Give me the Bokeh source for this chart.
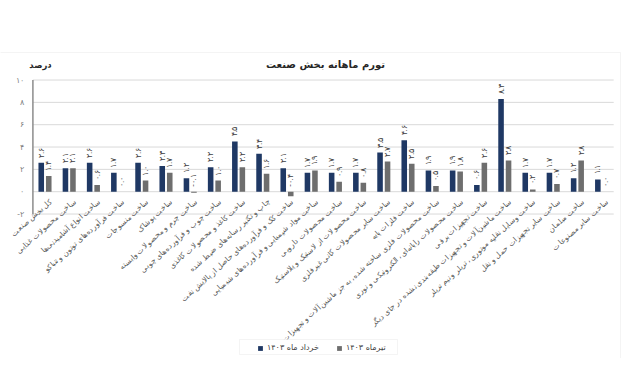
import math
from bokeh.plotting import figure
from bokeh.models import (ColumnDataSource, LabelSet, Label, Legend, LegendItem,
                          Range1d, BoxAnnotation)
from bokeh.transform import dodge
from bokeh.embed import file_html
from bokeh.resources import INLINE

categories = [
    "کل بخش صنعت",
    "ساخت محصولات غذایی",
    "ساخت انواع آشامیدنی‌ها",
    "ساخت فرآورده‌های توتون و تنباکو",
    "ساخت منسوجات",
    "ساخت پوشاک",
    "ساخت چرم و محصولات وابسته",
    "ساخت چوب و فرآورده‌های چوبی",
    "ساخت کاغذ و محصولات کاغذی",
    "چاپ و تکثیر رسانه‌های ضبط شده",
    "ساخت کک و فرآورده‌های حاصل از پالایش نفت",
    "ساخت مواد شیمیایی و فرآورده‌های شیمیایی",
    "ساخت محصولات دارویی",
    "ساخت محصولات از لاستیک و پلاستیک",
    "ساخت سایر محصولات کانی غیرفلزی",
    "ساخت فلزات پایه",
    "ساخت محصولات فلزی ساخته شده، به جز ماشین‌آلات و تجهیزات",
    "ساخت محصولات رایانه‌ای، الکترونیکی و نوری",
    "ساخت تجهیزات برقی",
    "ساخت ماشین‌آلات و تجهیزات طبقه‌بندی نشده در جای دیگر",
    "ساخت وسایل نقلیه موتوری، تریلر و نیم تریلر",
    "ساخت سایر تجهیزات حمل و نقل",
    "ساخت مبلمان",
    "ساخت سایر مصنوعات",
]
khordad = [2.6, 2.1, 2.6, 1.7, 2.6, 2.3, 1.2, 2.2, 4.5, 3.4, 2.1, 1.7,
           1.7, 1.7, 3.5, 4.6, 1.9, 1.9, 0.6, 8.3, 1.7, 1.7, 1.2, 1.1]
tir = [1.4, 2.1, 0.6, 0.0, 1.0, 1.7, -0.1, 1.0, 2.2, 1.6, -0.4, 1.9,
       0.9, 0.8, 2.7, 2.5, 0.5, 1.8, 2.6, 2.8, 0.2, 0.7, 2.8, 0.0]
y_ticks = [-2, 0, 2, 4, 6, 8, 10]
series_names = ["خرداد ماه ۱۴۰۳", "تیرماه ۱۴۰۳"]
title_text = "تورم ماهانه بخش صنعت"
unit_text = "درصد"

BLUE = "#1F3864"
GRAY = "#6E6E6E"
FONT = "DejaVu Sans"

_tr = str.maketrans("0123456789", "۰۱۲۳۴۵۶۷۸۹")


def fa(s):
    return str(s).translate(_tr)


n = len(categories)
W, H = 624, 358
# layout: plot area in pixels (figure coordinates)
PX_LEFT, PX_CAT = 32.4, 24.2          # left of first category, width of a category
PX_ZERO, PX_UNIT = 191.2, 11.167      # y pixel of value 0 (from top), px per unit


def ux(px):
    return (px - PX_LEFT) / PX_CAT


def vy(py):
    return (PX_ZERO - py) / PX_UNIT


src = ColumnDataSource(dict(
    cat=categories,
    xc=[i + 0.5 for i in range(n)],
    a=khordad,
    b=tir,
    a_pos=[max(v, 0) for v in khordad],
    b_pos=[max(v, 0) for v in tir],
    a_lab=[fa(f"{v:.1f}") for v in khordad],
    b_lab=[fa(f"{v:.1f}") for v in tir],
    zero=[0] * n,
))
tick_src = ColumnDataSource(dict(
    y=y_ticks,
    x0=[0] * len(y_ticks),
    x1=[n] * len(y_ticks),
    lab=[fa(t) if t >= 0 else "-" + fa(-t) for t in y_ticks],
))

p = figure(x_range=Range1d(ux(0), ux(W)), y_range=Range1d(vy(H), vy(0)),
           width=W, height=H, output_backend="svg", toolbar_location=None,
           min_border=0, min_border_left=0, min_border_right=0,
           min_border_top=0, min_border_bottom=0)
p.outline_line_color = None
p.axis.visible = False
p.grid.visible = False
p.background_fill_color = "white"
p.border_fill_color = "white"

# outer chart border
p.add_layout(BoxAnnotation(left=ux(-20), right=ux(620), top=vy(52), bottom=vy(H + 20),
                           fill_alpha=0, line_color="#d9d9d9", line_width=1))

# gridlines and y axis
p.segment(x0="x0", x1="x1", y0="y", y1="y", source=tick_src,
          line_color="#d9d9d9", line_width=1)
p.segment(x0=[0], x1=[0], y0=[min(y_ticks)], y1=[max(y_ticks)],
          line_color="#8c8c8c", line_width=1.5)
p.add_layout(LabelSet(x="x0", y="y", text="lab", source=tick_src, x_offset=-9,
                      text_align="right", text_baseline="middle",
                      text_font_size="8px", text_color="#7f7f7f", text_font=FONT))

r1 = p.vbar(x=dodge("xc", -0.155), top="a", width=0.23,
            source=src, fill_color=BLUE, line_color=None)
r2 = p.vbar(x=dodge("xc", 0.155), top="b", width=0.23,
            source=src, fill_color=GRAY, line_color=None)

# value labels
p.add_layout(LabelSet(x=dodge("xc", -0.155), y="a_pos", text="a_lab",
                      source=src, angle=math.pi / 2, text_align="left",
                      text_baseline="middle", y_offset=5, text_font_size="7.5px",
                      text_color="#404040", text_font=FONT))
p.add_layout(LabelSet(x=dodge("xc", 0.155), y="b_pos", text="b_lab",
                      source=src, angle=math.pi / 2, text_align="left",
                      text_baseline="middle", y_offset=5, text_font_size="7.5px",
                      text_color="#404040", text_font=FONT))

# category labels
p.add_layout(LabelSet(x="xc", y="zero", text="cat", source=src, angle=math.radians(42),
                      text_align="right", text_baseline="top", x_offset=3, y_offset=-5,
                      text_font_size="7.5px", text_color="#595959", text_font=FONT))

p.add_layout(Label(x=ux(325), y=vy(64), text=title_text, text_align="center",
                   text_baseline="middle", text_font_style="bold",
                   text_font_size="10px", text_color="#262626", text_font=FONT))
p.add_layout(Label(x=ux(40), y=vy(64.5), text=unit_text, text_align="center",
                   text_baseline="middle", text_font_style="bold",
                   text_font_size="8.5px", text_color="#262626", text_font=FONT))

# legend frame + legend
p.add_layout(BoxAnnotation(left=ux(239), right=ux(397), top=vy(339), bottom=vy(354),
                           fill_color="white", fill_alpha=1,
                           line_color="#d9d9d9", line_width=1))
legend = Legend(items=[LegendItem(label=series_names[0], renderers=[r1]),
                       LegendItem(label=series_names[1], renderers=[r2])],
                orientation="horizontal", location=(257, 6),
                label_text_font_size="8px", label_text_font=FONT,
                label_text_color="#404040",
                glyph_width=6, glyph_height=6, label_standoff=4, spacing=17,
                padding=0, label_height=8, margin=0,
                border_line_color=None, background_fill_alpha=0)
p.add_layout(legend, "center")

open("out.html", "w").write(file_html(p, INLINE))
